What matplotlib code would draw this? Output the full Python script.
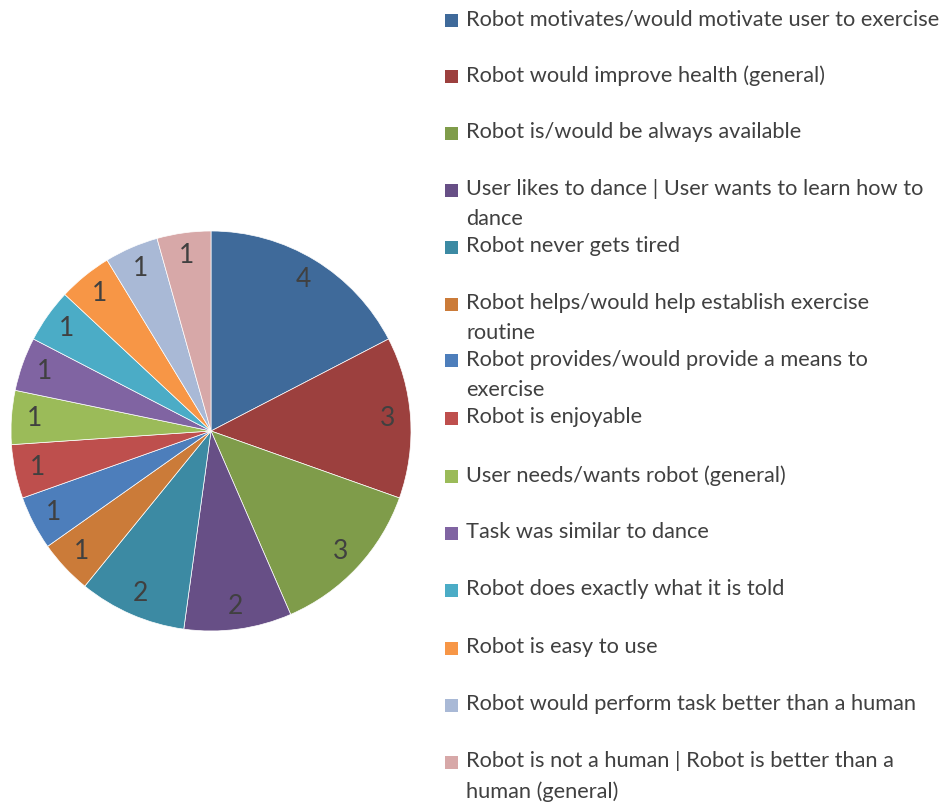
import matplotlib
matplotlib.use("Agg")
import matplotlib.pyplot as plt
from matplotlib.patches import Rectangle

# Dados do gráfico
categorias = [
    "Robot motivates/would motivate user to exercise",
    "Robot would improve health (general)",
    "Robot is/would be always available",
    "User likes to dance | User wants to learn how to\ndance",
    "Robot never gets tired",
    "Robot helps/would help establish exercise\nroutine",
    "Robot provides/would provide a means to\nexercise",
    "Robot is enjoyable",
    "User needs/wants robot (general)",
    "Task was similar to dance",
    "Robot does exactly what it is told",
    "Robot is easy to use",
    "Robot would perform task better than a human",
    "Robot is not a human | Robot is better than a\nhuman (general)",
]
valores = [4, 3, 3, 2, 2, 1, 1, 1, 1, 1, 1, 1, 1, 1]
cores = ["#3F6A9A", "#9C403E", "#7F9C4A", "#674F86", "#3C8AA3", "#CB7B39", "#4D7EBB",
         "#BE4F4D", "#9BBB59", "#8064A2", "#4BACC6", "#F79646", "#A9B9D6", "#D7A8A8"]

W, H = 944, 806
fig = plt.figure(figsize=(W / 100, H / 100), dpi=100)
fonte = "Lato"
cor_texto = "#404040"

# Pizza: centro (211, 431), raio 200 px
ax = fig.add_axes([11 / W, (H - 631) / H, 400 / W, 400 / H])
fatias, textos = ax.pie(valores, colors=cores, startangle=90, counterclock=False,
                        labels=[str(v) for v in valores], labeldistance=0.885,
                        wedgeprops=dict(linewidth=0.5, edgecolor="white"),
                        textprops=dict(fontsize=19, color=cor_texto, family=fonte))
for t in textos:
    t.set_ha("center")
    t.set_va("center")
ax.set_xlim(-1, 1)
ax.set_ylim(-1, 1)
ax.set_aspect("equal")
ax.axis("off")

# Legenda manual
y_legenda = [20, 76, 133, 190, 247, 304, 361, 418, 476, 533, 590, 648, 705, 762]
for nome, cor, y in zip(categorias, cores, y_legenda):
    fig.patches.append(Rectangle(((445) / W, (H - y - 6.5) / H), 13 / W, 13 / H,
                                 transform=fig.transFigure, facecolor=cor,
                                 edgecolor="none"))
    fig.text(466 / W, (H - y + 11) / H, nome, ha="left", va="top", fontsize=15.7,
             color=cor_texto, family=fonte, linespacing=1.64)

fig.savefig("out.png", dpi=100, facecolor="white")
